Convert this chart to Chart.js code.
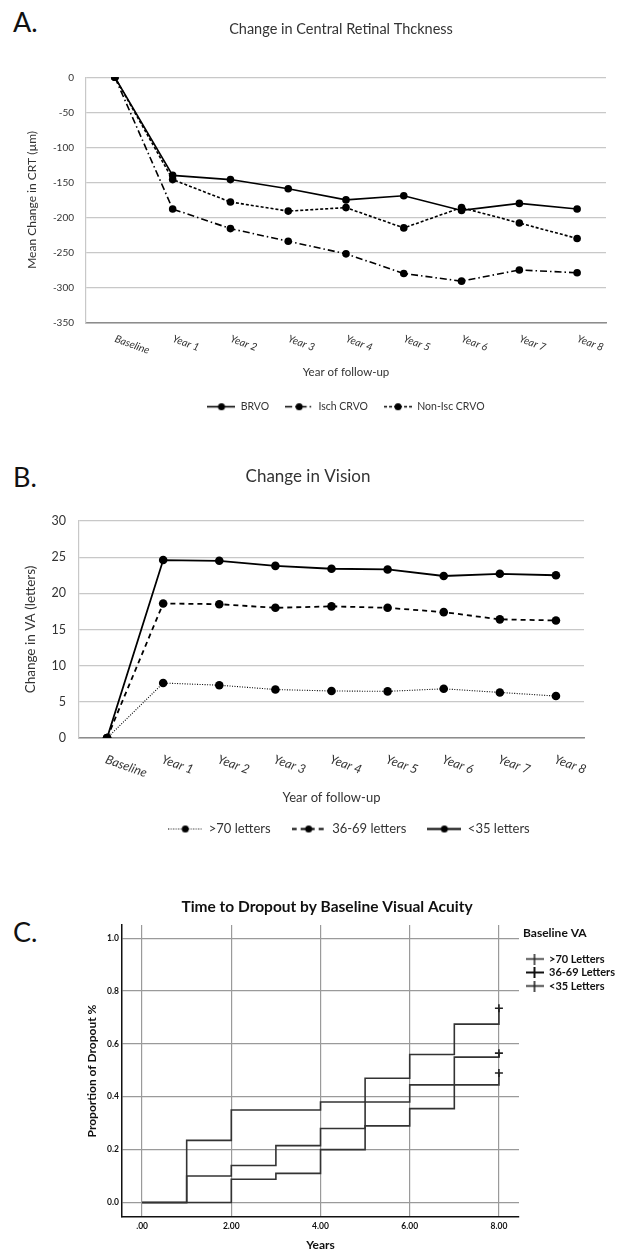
<!DOCTYPE html>
<html>
<head>
<meta charset="utf-8">
<title>RVO outcomes</title>
<script src="https://cdn.jsdelivr.net/npm/chart.js@4.4.1/dist/chart.umd.min.js"></script>
<style>
  html, body { margin: 0; padding: 0; background: #fff; }
  #page { position: relative; width: 627px; height: 1252px; overflow: hidden; background: #fff; }
  #page canvas { position: absolute; left: 0; }
  .panel-tag { position: absolute; left: 13px; font-family: Lato, sans-serif; font-size: 27px; line-height: 27px; color: #111; }
</style>
</head>
<body>
<div id="page">
  <div class="panel-tag" style="top:8px">A.</div>
  <div class="panel-tag" style="top:463px">B.</div>
  <div class="panel-tag" style="top:918px">C.</div>
  <canvas id="crtChart" width="627" height="422" style="top:0"></canvas>
  <canvas id="vaChart" width="627" height="412" style="top:440px"></canvas>
  <canvas id="dropoutChart" width="627" height="372" style="top:880px"></canvas>
</div>
<script>
  Chart.defaults.font.family = "Lato, 'Open Sans', sans-serif";
  Chart.defaults.color = "#333";
  Chart.defaults.animation = false;

  /* ---------- data ---------- */
  const yearLabels = ["Baseline", "Year 1", "Year 2", "Year 3", "Year 4", "Year 5", "Year 6", "Year 7", "Year 8"];

  // A. mean change in CRT (µm)
  const crtBrvo = [0, -140, -146, -159, -175, -169, -190, -180, -188];
  const crtIschCrvo = [0, -188, -216, -234, -252, -280, -291, -275, -279];
  const crtNonIscCrvo = [0, -146, -178, -191, -186, -215, -186, -208, -230];

  // B. change in VA (letters)
  const vaOver70 = [0, 7.6, 7.3, 6.7, 6.5, 6.45, 6.8, 6.3, 5.8];
  const va36to69 = [0, 18.6, 18.5, 18.0, 18.2, 18.0, 17.4, 16.4, 16.25];
  const vaUnder35 = [0, 24.6, 24.5, 23.8, 23.4, 23.3, 22.4, 22.7, 22.5];

  // C. cumulative dropout (step curves), event times and proportions
  const kmOver70X = [0, 2, 3, 4, 5, 6, 7, 8];
  const kmOver70Y = [0, 0.088, 0.11, 0.20, 0.29, 0.355, 0.445, 0.49];
  const km36to69X = [0, 1, 2, 3, 4, 5, 6, 7, 8];
  const km36to69Y = [0, 0.10, 0.14, 0.215, 0.28, 0.38, 0.445, 0.55, 0.565];
  const kmUnder35X = [0, 1, 2, 4, 5, 6, 7, 8];
  const kmUnder35Y = [0, 0.235, 0.35, 0.38, 0.47, 0.56, 0.675, 0.735];

  const yearTicks = [0, 2, 4, 6, 8];
  const dropoutTicks = [0, 0.2, 0.4, 0.6, 0.8, 1.0];

  /* ---------- helpers ---------- */
  // small legend glyph: line (maybe dashed) with a dot or a cross in the middle
  function legendSymbol(width, height, dash, lineWidth, marker, color) {
    const c = document.createElement("canvas");
    c.width = width;
    c.height = height;
    const g = c.getContext("2d");
    const mid = height / 2;
    g.strokeStyle = color;
    g.fillStyle = color;
    g.lineWidth = lineWidth;
    g.setLineDash(dash);
    g.beginPath();
    g.moveTo(0, mid);
    g.lineTo(width, mid);
    g.stroke();
    g.setLineDash([]);
    if (marker === "dot") {
      g.beginPath();
      g.arc(width / 2, mid, 3.5, 0, Math.PI * 2);
      g.fill();
    } else if (marker === "cross") {
      g.beginPath();
      g.moveTo(width / 2, 0);
      g.lineTo(width / 2, height);
      g.stroke();
    }
    return c;
  }

  function legendWith(symbols) {
    return (chart) =>
      Chart.defaults.plugins.legend.labels.generateLabels(chart).map((item, i) => ({
        ...item,
        pointStyle: symbols[i],
      }));
  }

  function lineSeries(label, values, dash, width, radius) {
    return {
      label,
      data: values,
      borderColor: "#000",
      backgroundColor: "#000",
      borderWidth: width,
      borderDash: dash,
      pointRadius: radius,
      pointBackgroundColor: "#000",
      pointBorderColor: "#000",
      pointBorderWidth: 0,
      tension: 0,
      fill: false,
    };
  }

  function stepSeries(label, xs, ys) {
    return {
      label,
      data: xs.map((x, i) => ({ x, y: ys[i] })),
      stepped: true,
      borderColor: "#333",
      backgroundColor: "#333",
      borderWidth: 1.6,
      pointStyle: "cross",
      pointRadius: (ctx) => (ctx.dataIndex === ctx.dataset.data.length - 1 ? 4 : 0),
      pointBorderColor: "#222",
      pointBorderWidth: 1.6,
      fill: false,
    };
  }

  // category labels written slanted downwards (clockwise), starting at the tick
  const slantedTicks = {
    id: "slantedTicks",
    afterDraw(chart, args, opts) {
      const scale = chart.scales.x;
      const ctx = chart.ctx;
      ctx.save();
      ctx.font = opts.labelFont;
      ctx.fillStyle = opts.labelColor;
      ctx.textAlign = "left";
      ctx.textBaseline = "top";
      scale.ticks.forEach((tick, i) => {
        ctx.save();
        ctx.translate(scale.getPixelForTick(i) + opts.dx, scale.top + opts.dy);
        ctx.rotate((opts.angle * Math.PI) / 180);
        ctx.fillText(scale.getLabelForValue(tick.value), 0, 0);
        ctx.restore();
      });
      ctx.restore();
    },
  };

  // move title / legend boxes a little after layout
  const nudge = {
    id: "nudge",
    afterLayout(chart, args, opts) {
      [["legend", chart.legend], ["title", chart.titleBlock]].forEach(([key, box]) => {
        const d = opts && opts[key];
        if (!box || !d) return;
        box.left += d.dx || 0;
        box.right += d.dx || 0;
        box.top += d.dy || 0;
        box.bottom += d.dy || 0;
      });
    },
  };

  /* ---------- A. change in central retinal thickness ---------- */
  const crtSymbols = [
    legendSymbol(28, 9, [], 1.6, "dot", "#000"),
    legendSymbol(28, 9, [7, 3, 1.5, 3], 1.6, "dot", "#000"),
    legendSymbol(28, 9, [3, 2], 1.6, "dot", "#000"),
  ];

  new Chart(document.getElementById("crtChart"), {
    type: "line",
    data: {
      labels: yearLabels,
      datasets: [
        lineSeries("BRVO", crtBrvo, [], 1.6, 3.8),
        lineSeries("Isch CRVO", crtIschCrvo, [7, 3, 1.5, 3], 1.6, 3.8),
        lineSeries("Non-Isc CRVO", crtNonIscCrvo, [3, 2], 1.6, 3.8),
      ],
    },
    options: {
      responsive: false,
      layout: { padding: { right: 21 } },
      scales: {
        x: {
          offset: true,
          grid: { display: false },
          border: { color: "#8c8c8c", width: 1.5 },
          ticks: { display: false },
          title: { display: true, text: "Year of follow-up", font: { size: 11.5 }, padding: { top: 0, bottom: 6.6 } },
          afterFit: (s) => { s.height = 63; },
        },
        y: {
          min: -350,
          max: 0,
          ticks: { stepSize: 50, padding: 12, font: { size: 10 } },
          grid: { color: "#c8c8c8", lineWidth: 1.2, drawTicks: false },
          border: { color: "#c8c8c8", width: 1.2 },
          title: { display: true, text: "Mean Change in CRT (µm)", font: { size: 12 }, padding: { top: 24.8, bottom: 0 } },
          afterFit: (s) => { s.width = 86; },
        },
      },
      plugins: {
        title: {
          display: true,
          text: "Change in Central Retinal Thckness",
          fullSize: false,
          color: "#333",
          font: { size: 14.5, weight: "normal" },
          padding: { top: 20.6, bottom: 39.3 },
        },
        legend: {
          position: "bottom",
          fullSize: false,
          labels: {
            usePointStyle: true,
            pointStyleWidth: 28,
            padding: 16,
            color: "#333",
            font: { size: 10.5 },
            generateLabels: legendWith(crtSymbols),
          },
        },
        tooltip: { enabled: false },
        slantedTicks: { labelFont: "italic 10.5px Lato", labelColor: "#333", dx: 2, dy: 11, angle: 20 },
        nudge: { title: { dx: -5 } },
      },
    },
    plugins: [slantedTicks, nudge],
  });

  /* ---------- B. change in vision ---------- */
  const vaSymbols = [
    legendSymbol(34, 9, [1, 1.5], 1, "dot", "#000"),
    legendSymbol(34, 9, [5, 4], 1.8, "dot", "#000"),
    legendSymbol(34, 9, [], 1.8, "dot", "#000"),
  ];

  new Chart(document.getElementById("vaChart"), {
    type: "line",
    data: {
      labels: yearLabels,
      datasets: [
        lineSeries(">70 letters", vaOver70, [1, 1.5], 1.1, 4.3),
        lineSeries("36-69 letters", va36to69, [5, 4], 1.8, 4.3),
        lineSeries("<35 letters", vaUnder35, [], 1.8, 4.3),
      ],
    },
    options: {
      responsive: false,
      layout: { padding: { right: 43 } },
      scales: {
        x: {
          offset: true,
          grid: { display: false },
          border: { color: "#8c8c8c", width: 1.5 },
          ticks: { display: false },
          title: { display: true, text: "Year of follow-up", font: { size: 13 }, padding: { top: 0, bottom: 2.2 } },
          afterFit: (s) => { s.height = 70; },
        },
        y: {
          min: 0,
          max: 30,
          ticks: { stepSize: 5, padding: 13, font: { size: 12.5 } },
          grid: { color: "#c8c8c8", lineWidth: 1.2, drawTicks: false },
          border: { color: "#c8c8c8", width: 1.2 },
          title: { display: true, text: "Change in VA (letters)", font: { size: 13.5 }, padding: { top: 22.9, bottom: 0 } },
          afterFit: (s) => { s.width = 79; },
        },
      },
      plugins: {
        title: {
          display: true,
          text: "Change in Vision",
          fullSize: false,
          color: "#333",
          font: { size: 17, weight: "normal" },
          padding: { top: 26.8, bottom: 33.8 },
        },
        legend: {
          position: "bottom",
          fullSize: false,
          labels: {
            usePointStyle: true,
            pointStyleWidth: 34,
            padding: 21,
            color: "#333",
            font: { size: 13 },
            generateLabels: legendWith(vaSymbols),
          },
        },
        tooltip: { enabled: false },
        slantedTicks: { labelFont: "italic 12.5px Lato", labelColor: "#333", dx: 1, dy: 15, angle: 20 },
        nudge: { title: { dx: -23.5 }, legend: { dx: 17.5, dy: -6.5 } },
      },
    },
    plugins: [slantedTicks, nudge],
  });

  /* ---------- C. time to dropout ---------- */
  const dropSymbols = [
    legendSymbol(18, 11, [], 1.5, "cross", "#222"),
    legendSymbol(18, 11, [], 2, "cross", "#111"),
    legendSymbol(18, 11, [], 1.6, "cross", "#222"),
  ];

  new Chart(document.getElementById("dropoutChart"), {
    type: "line",
    data: {
      datasets: [
        stepSeries(">70 Letters", kmOver70X, kmOver70Y),
        stepSeries("36-69 Letters", km36to69X, km36to69Y),
        stepSeries("<35 Letters", kmUnder35X, kmUnder35Y),
      ],
    },
    options: {
      responsive: false,
      layout: { padding: { right: 13 } },
      scales: {
        x: {
          type: "linear",
          min: -0.45,
          max: 8.45,
          afterBuildTicks: (s) => { s.ticks = yearTicks.map((v) => ({ value: v })); },
          ticks: {
            callback: (v) => (v === 0 ? ".00" : v.toFixed(2)),
            color: "#111",
            font: { size: 8.5, weight: "bold" },
            padding: 4,
          },
          grid: { color: "#9a9a9a", lineWidth: 1.2, drawTicks: false },
          border: { color: "#111", width: 1.5 },
          title: { display: true, text: "Years", color: "#111", font: { size: 12, weight: "bold" }, padding: { top: 0, bottom: 0 } },
          afterFit: (s) => { s.height = 35; },
        },
        y: {
          min: -0.055,
          max: 1.05,
          afterBuildTicks: (s) => { s.ticks = dropoutTicks.map((v) => ({ value: v })); },
          ticks: {
            callback: (v) => v.toFixed(1),
            color: "#111",
            font: { size: 8.5, weight: "bold" },
            padding: 3,
          },
          grid: { color: "#9a9a9a", lineWidth: 1.2, drawTicks: false },
          border: { color: "#111", width: 1.5 },
          title: { display: true, text: "Proportion of Dropout %", color: "#111", font: { size: 12, weight: "bold" }, padding: { top: 85, bottom: 0 } },
          afterFit: (s) => { s.width = 122; },
        },
      },
      plugins: {
        title: {
          display: true,
          text: "Time to Dropout by Baseline Visual Acuity",
          fullSize: false,
          color: "#111",
          font: { size: 15.5, weight: "bold" },
          padding: { top: 17.7, bottom: 8.7 },
        },
        legend: {
          position: "right",
          align: "start",
          maxWidth: 95,
          title: {
            display: true,
            text: "Baseline VA",
            position: "start",
            color: "#111",
            font: { size: 12, weight: "bold" },
            padding: { top: 47, bottom: 9.6 },
          },
          labels: {
            usePointStyle: true,
            pointStyleWidth: 18,
            padding: 2.5,
            color: "#111",
            font: { size: 11, weight: "bold" },
            generateLabels: legendWith(dropSymbols),
          },
        },
        tooltip: { enabled: false },
        nudge: { title: { dx: 6.5 }, legend: { dx: 4 } },
      },
    },
    plugins: [nudge],
  });
</script>
</body>
</html>
